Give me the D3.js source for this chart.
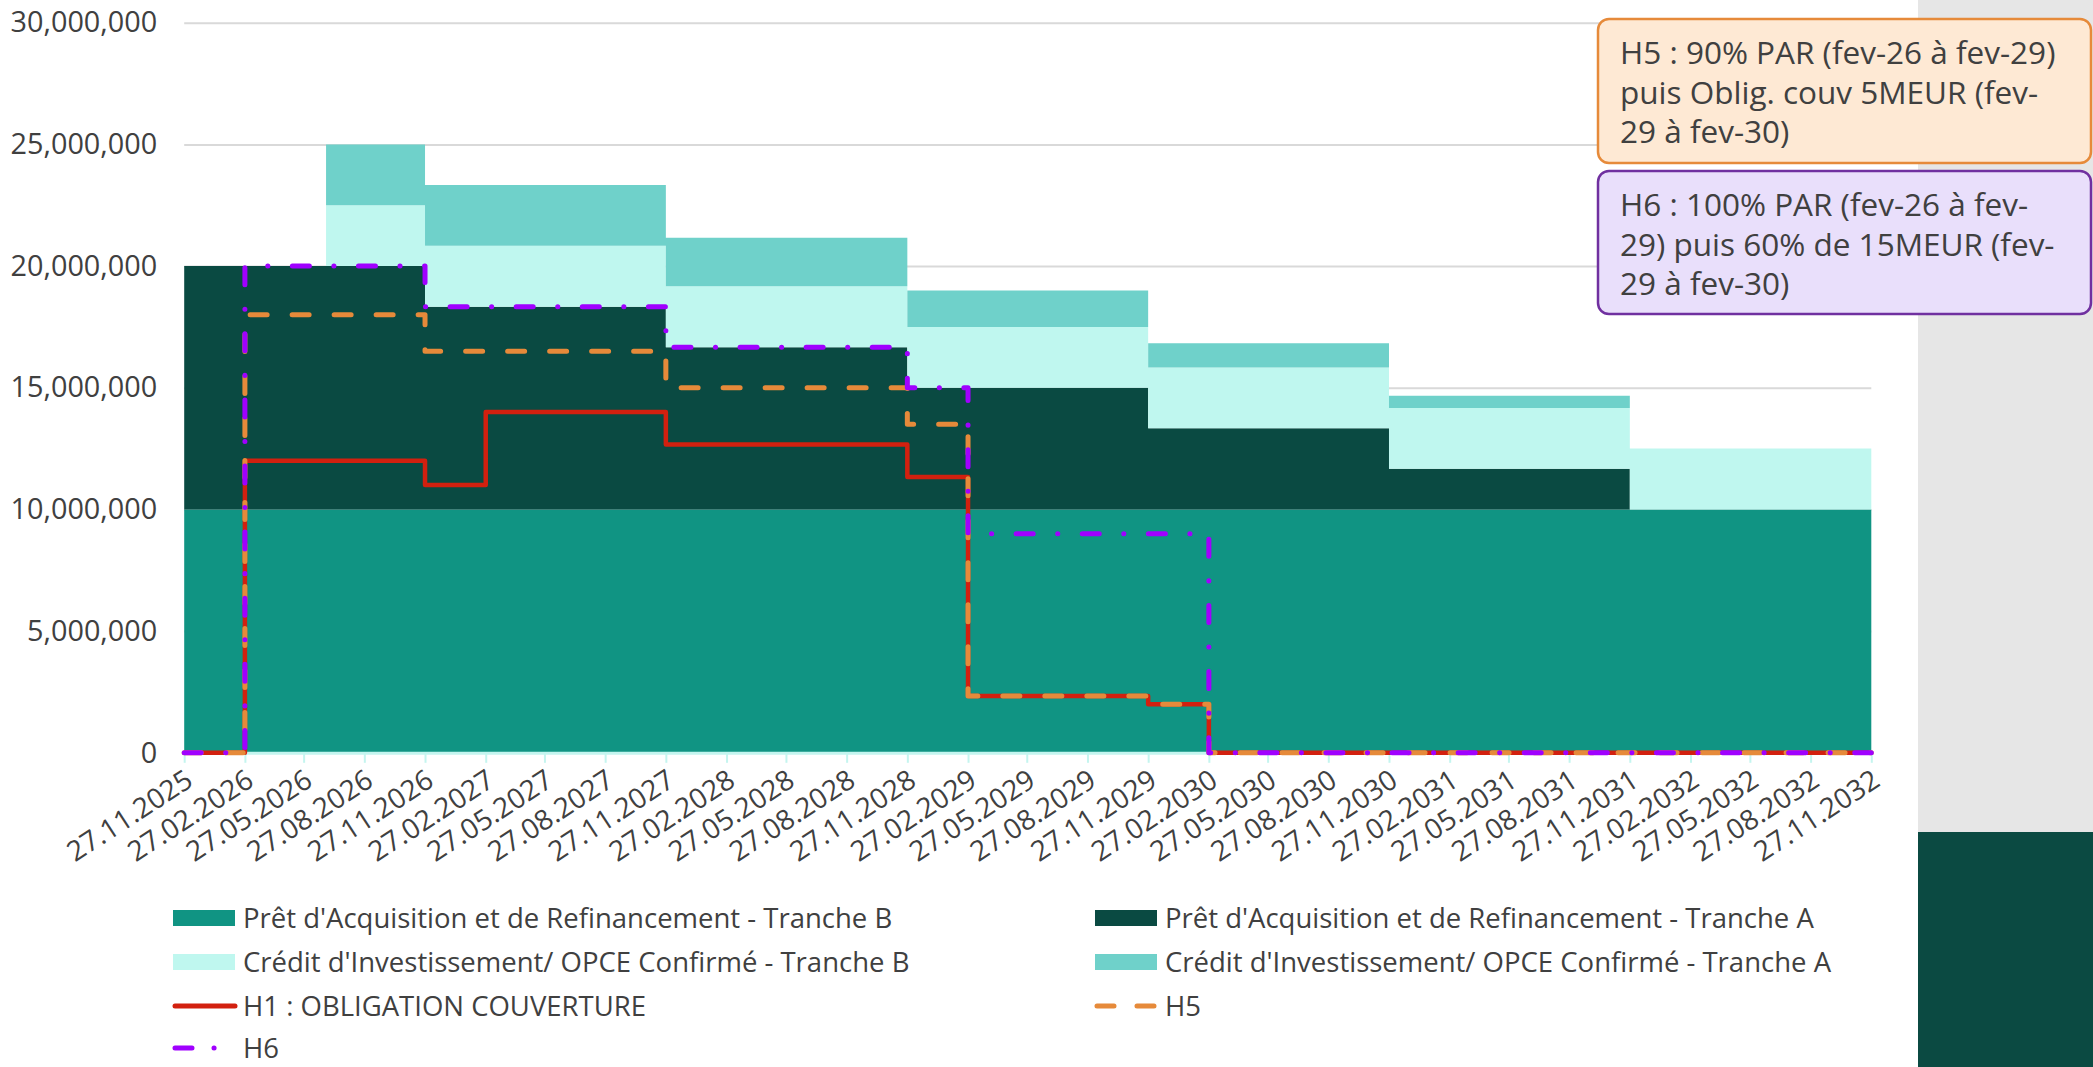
<!DOCTYPE html>
<html lang='fr'>
<head>
  <meta charset='utf-8'/>
  <title>Profil de couverture</title>
  <script src='https://d3js.org/d3.v7.min.js'></script>
  <style>
    body{margin:0;background:#ffffff;font-family:'Open Sans',sans-serif;}
    svg text{fill:#404040;}
  </style>
</head>
<body>
<svg id='chart'></svg>
<script>
// Dates / valeurs (en millions d'EUR)
const tickLabels = ['27.11.2025','27.02.2026','27.05.2026','27.08.2026','27.11.2026','27.02.2027','27.05.2027','27.08.2027',
  '27.11.2027','27.02.2028','27.05.2028','27.08.2028','27.11.2028','27.02.2029','27.05.2029','27.08.2029',
  '27.11.2029','27.02.2030','27.05.2030','27.08.2030','27.11.2030','27.02.2031','27.05.2031','27.08.2031',
  '27.11.2031','27.02.2032','27.05.2032','27.08.2032','27.11.2032'];
const yTicks = [0, 5e6, 10e6, 15e6, 20e6, 25e6, 30e6];

// stacked areas : start of each step
const areaDates = ['27.11.2025','30.06.2026','27.11.2026','27.11.2027','27.11.2028','27.11.2029','27.11.2030','27.11.2031'];
const pretTrancheB   = [10, 10, 10, 10, 10, 10, 10, 10];
const pretTrancheA   = [10, 10, 8.333, 6.667, 5, 3.333, 1.667, 0];
const creditTrancheB = [0, 2.5, 2.5, 2.5, 2.5, 2.5, 2.5, 2.5];
const creditTrancheA = [0, 2.5, 2.5, 2.0, 1.5, 1.0, 0.5, 0];

// hedging scenarios : start of each step
const hedgeDates = ['27.11.2025','27.02.2026','27.11.2026','27.02.2027','27.11.2027','27.11.2028','27.02.2029','27.11.2029','27.02.2030'];
const h1 = [0, 12, 11, 14, 12.667, 11.333, 2.333, 2.0, 0];
const h5 = [0, 18, 16.5, 16.5, 15, 13.5, 2.333, 2.0, 0];
const h6 = [0, 20, 18.333, 18.333, 16.667, 15, 9, 9, 0];
const endDate = '27.11.2032';

const areaNames = [
  "Prêt d'Acquisition et de Refinancement - Tranche B",
  "Prêt d'Acquisition et de Refinancement - Tranche A",
  "Crédit d'Investissement/ OPCE Confirmé - Tranche B",
  "Crédit d'Investissement/ OPCE Confirmé - Tranche A"
];
const areaColors = ['#109483', '#0a4a42', '#bff7ef', '#6fd1ca'];

const W = 2093, H = 1067;
const margin = {top: 22.7, left: 184.2, right: W - 1871.3, bottom: H - 752.8};
const width = W - margin.left - margin.right;
const height = H - margin.top - margin.bottom;

const parse = d3.timeParse('%d.%m.%Y');
const svg = d3.select('#chart').attr('width', W).attr('height', H);

// right hand panel
svg.append('rect').attr('x', 1918).attr('y', 0).attr('width', W - 1918).attr('height', 832).attr('fill', '#e6e6e6');
svg.append('rect').attr('x', 1918).attr('y', 832).attr('width', W - 1918).attr('height', H - 832).attr('fill', '#0b4a42');

const g = svg.append('g').attr('transform', `translate(${margin.left},${margin.top})`);

const x = d3.scaleTime().domain([parse(tickLabels[0]), parse(endDate)]).range([0, width]);
const y = d3.scaleLinear().domain([0, 30e6]).range([height, 0]);

// gridlines
g.append('g')
  .call(d3.axisLeft(y).tickValues(yTicks.slice(1)).tickSize(-width).tickFormat(''))
  .call(a => a.select('.domain').remove())
  .call(a => a.selectAll('line').attr('stroke', '#d9d9d9').attr('stroke-width', 2));

// y labels
g.append('g')
  .call(d3.axisLeft(y).tickValues(yTicks).tickSize(0).tickPadding(27).tickFormat(d3.format(',')))
  .call(a => a.select('.domain').remove())
  .call(a => a.selectAll('text').attr('font-size', 28.8).attr('font-family', "'Open Sans',sans-serif").style('fill', '#404040'));

// stacked areas
const rows = areaDates.map((d, i) => ({
  date: parse(d), b: pretTrancheB[i] * 1e6, a: pretTrancheA[i] * 1e6,
  cb: creditTrancheB[i] * 1e6, ca: creditTrancheA[i] * 1e6
}));
rows.push({...rows[rows.length - 1], date: parse(endDate)});
const stack = d3.stack().keys(['b', 'a', 'cb', 'ca'])(rows);
const area = d3.area().curve(d3.curveStepAfter)
  .x(d => x(d.data.date)).y0(d => y(d[0])).y1(d => y(d[1]));
g.selectAll('.layer').data(stack).join('path')
  .attr('class', 'layer')
  .attr('fill', (d, i) => areaColors[i])
  .attr('d', area);

// x axis
g.append('g').attr('transform', `translate(0,${height})`)
  .call(d3.axisBottom(x).tickValues(tickLabels.map(parse)).tickSize(10).tickSizeOuter(0).tickFormat(d3.timeFormat('%d.%m.%Y')))
  .call(a => a.select('.domain').attr('stroke', '#c4f5ef').attr('stroke-width', 3))
  .call(a => a.selectAll('line').attr('stroke', '#c4f5ef').attr('stroke-width', 2))
  .call(a => a.selectAll('text')
    .attr('font-size', 28).attr('font-family', "'Open Sans',sans-serif").style('fill', '#404040')
    .attr('text-anchor', 'end').attr('dy', 0).attr('y', 0)
    .attr('transform', 'translate(10,32) rotate(-33)'));

// hedge lines
const hedges = [
  {name: 'H1 : OBLIGATION COUVERTURE', values: h1, color: '#d2200f', dash: null},
  {name: 'H5', values: h5, color: '#e68a3a', dash: '17,25'},
  {name: 'H6', values: h6, color: '#a000ff', dash: '17,24.5,0.1,24.5'}
];
const line = d3.line().curve(d3.curveStepAfter).x(d => x(d.date)).y(d => y(d.v));
hedges.forEach(h => {
  const pts = hedgeDates.map((d, i) => ({date: parse(d), v: h.values[i] * 1e6}));
  pts.push({date: parse(endDate), v: h.values[h.values.length - 1] * 1e6});
  g.append('path')
    .attr('fill', 'none')
    .attr('stroke', h.color)
    .attr('stroke-width', h.dash ? 5 : 4.5)
    .attr('stroke-linecap', h.dash ? 'round' : 'butt')
    .attr('stroke-linejoin', 'round')
    .attr('stroke-dasharray', h.dash)
    .attr('d', line(pts));
});

// legend
const legendItems = [
  {name: areaNames[0], type: 'rect', color: areaColors[0], col: 0, row: 0},
  {name: areaNames[1], type: 'rect', color: areaColors[1], col: 1, row: 0},
  {name: areaNames[2], type: 'rect', color: areaColors[2], col: 0, row: 1},
  {name: areaNames[3], type: 'rect', color: areaColors[3], col: 1, row: 1},
  {name: hedges[0].name, type: 'line', h: hedges[0], col: 0, row: 2},
  {name: hedges[1].name, type: 'line', h: hedges[1], col: 1, row: 2},
  {name: hedges[2].name, type: 'line', h: hedges[2], col: 0, row: 3}
];
const colX = [173, 1095], rowY = [918, 962, 1006, 1048];
legendItems.forEach(it => {
  const lg = svg.append('g').attr('transform', `translate(${colX[it.col]},${rowY[it.row]})`);
  if (it.type === 'rect') {
    lg.append('rect').attr('x', 0).attr('y', -8).attr('width', 62).attr('height', 16).attr('fill', it.color);
  } else {
    lg.append('line').attr('x1', 2).attr('x2', 62).attr('y1', 0).attr('y2', 0)
      .attr('stroke', it.h.color).attr('stroke-width', 5)
      .attr('stroke-linecap', 'round')
      .attr('stroke-dasharray', it.h.dash ? (it.h.name === 'H6' ? '17,22,0.1,40' : '17,23') : null);
  }
  lg.append('text').attr('x', 70).attr('y', 0).attr('dy', '0.35em')
    .attr('font-size', 27.5).text(it.name);
});

// annotation boxes
const notes = [
  {y: 19, h: 144, fill: '#fee9d4', stroke: '#e68a3a',
   lines: ['H5 : 90% PAR (fev-26 à fev-29)', 'puis Oblig. couv 5MEUR (fev-', '29 à fev-30)']},
  {y: 171, h: 143, fill: '#e9dffb', stroke: '#7030a0',
   lines: ['H6 : 100% PAR (fev-26 à fev-', '29) puis 60% de 15MEUR (fev-', '29 à fev-30)']}
];
notes.forEach(n => {
  svg.append('rect').attr('x', 1598).attr('y', n.y).attr('width', 493).attr('height', n.h)
    .attr('rx', 11).attr('fill', n.fill).attr('stroke', n.stroke).attr('stroke-width', 2.5);
  n.lines.forEach((t, i) => {
    svg.append('text').attr('x', 1620).attr('y', n.y + 45 + i * 39.5)
      .attr('font-size', 31.5).text(t);
  });
});
</script>
</body>
</html>
